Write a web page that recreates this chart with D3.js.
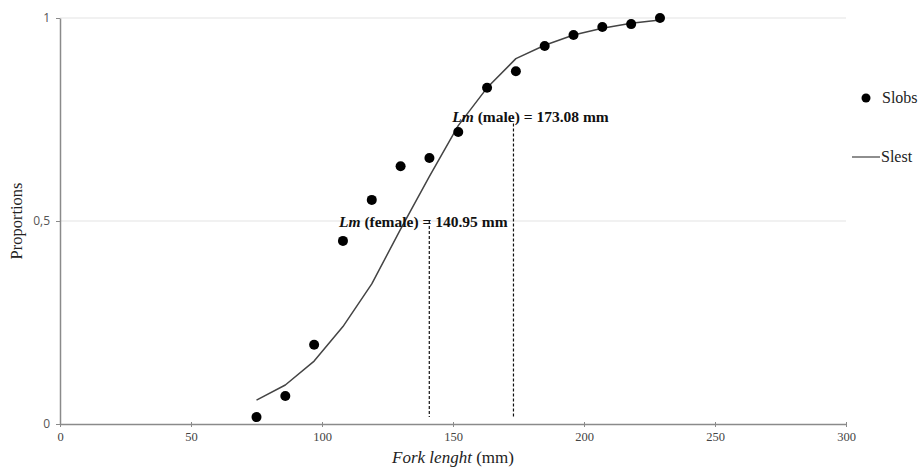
<!DOCTYPE html>
<html>
<head>
<meta charset="utf-8">
<script src="https://cdn.jsdelivr.net/npm/d3@7"></script>
<style>
  html, body { margin: 0; background: #fff; overflow: hidden; }
  svg { display: block; }
</style>
</head>
<body>
<div id="chart"></div>
<script>
  // Data
  const forkLength = [75, 86, 97, 108, 119, 130, 141, 152, 163, 174, 185, 196, 207, 218, 229]
  const slobs = [0.017, 0.069, 0.195, 0.451, 0.552, 0.635, 0.655, 0.719, 0.828, 0.869, 0.931, 0.958, 0.978, 0.985, 1.0]
  const slest = [0.059, 0.096, 0.155, 0.24, 0.345, 0.48, 0.61, 0.735, 0.828, 0.90, 0.933, 0.958, 0.975, 0.987, 0.995]
  const xTicks = [0, 50, 100, 150, 200, 250, 300]
  const yTicks = [0, 0.5, 1]
  const yTickLabels = ['0', '0,5', '1']
  const lmFemale = 140.95
  const lmMale = 173.08
  const lmFemaleTop = 0.5
  const lmMaleTop = 0.74
  const lmBottom = 0.017

  const width = 923
  const height = 470
  const margin = { top: 18, right: 77, bottom: 46, left: 60 }
  const innerWidth = width - margin.left - margin.right
  const innerHeight = height - margin.top - margin.bottom
  const serif = "'Liberation Serif', 'Times New Roman', serif"

  const svg = d3.select('#chart')
    .append('svg')
    .attr('width', width)
    .attr('height', height)

  const g = svg.append('g')
    .attr('transform', `translate(${margin.left}, ${margin.top})`)

  const x = d3.scaleLinear().domain([0, 300]).range([0, innerWidth])
  const y = d3.scaleLinear().domain([0, 1]).range([innerHeight, 0])

  const data = forkLength.map((d, i) => ({ x: d, obs: slobs[i], est: slest[i] }))

  // Gridlines
  g.append('g')
    .selectAll('line')
    .data(yTicks.filter(d => d > 0))
    .join('line')
    .attr('x1', 0)
    .attr('x2', innerWidth)
    .attr('y1', d => y(d))
    .attr('y2', d => y(d))
    .attr('stroke', '#e3e3e3')
    .attr('stroke-width', 1)

  // Bottom axis
  const xAxis = g.append('g')
    .attr('transform', `translate(0, ${innerHeight})`)
    .call(d3.axisBottom(x).tickValues(xTicks).tickSize(3).tickPadding(5).tickSizeOuter(0))
  xAxis.select('.domain').attr('stroke', '#8a8a8a').attr('stroke-width', 1.5)
  xAxis.selectAll('.tick line').attr('stroke', '#8a8a8a').attr('y1', -2)
  xAxis.selectAll('.tick text')
    .style('font-family', serif)
    .style('font-size', '12.5px')
    .attr('fill', '#444')

  // Left axis
  const yAxis = g.append('g')
    .call(d3.axisLeft(y).tickValues(yTicks).tickFormat((d, i) => yTickLabels[i]).tickSize(4).tickPadding(6).tickSizeOuter(0))
  yAxis.select('.domain').attr('stroke', '#8a8a8a').attr('stroke-width', 1.5)
  yAxis.selectAll('.tick line').attr('stroke', '#8a8a8a')
  yAxis.selectAll('.tick text')
    .style('font-family', "'Open Sans', 'Liberation Sans', sans-serif")
    .style('font-size', '12px')
    .attr('fill', '#555')

  // Axis titles
  const xTitle = svg.append('text')
    .attr('x', margin.left + innerWidth / 2)
    .attr('y', 463)
    .attr('text-anchor', 'middle')
    .attr('font-family', serif)
    .attr('font-size', 17)
    .attr('fill', '#222')
  xTitle.append('tspan').attr('font-style', 'italic').text('Fork lenght')
  xTitle.append('tspan').text(' (mm)')

  svg.append('text')
    .attr('transform', `translate(22, ${margin.top + innerHeight / 2}) rotate(-90)`)
    .attr('text-anchor', 'middle')
    .attr('font-family', serif)
    .attr('font-size', 16.5)
    .attr('fill', '#222')
    .text('Proportions')

  // Lm dashed lines
  const lms = [
    { v: lmFemale, top: lmFemaleTop },
    { v: lmMale, top: lmMaleTop }
  ]
  g.selectAll('.lm')
    .data(lms)
    .join('line')
    .attr('class', 'lm')
    .attr('x1', d => x(d.v))
    .attr('x2', d => x(d.v))
    .attr('y1', d => y(d.top))
    .attr('y2', y(lmBottom))
    .attr('stroke', '#111')
    .attr('stroke-width', 1.2)
    .attr('stroke-dasharray', '3,2')

  // Estimated line
  const line = d3.line()
    .x(d => x(d.x))
    .y(d => y(d.est))

  g.append('path')
    .datum(data)
    .attr('fill', 'none')
    .attr('stroke', '#444')
    .attr('stroke-width', 1.5)
    .attr('stroke-linejoin', 'round')
    .attr('d', line)

  // Observed points
  g.selectAll('.dot')
    .data(data)
    .join('circle')
    .attr('class', 'dot')
    .attr('cx', d => x(d.x))
    .attr('cy', d => y(d.obs))
    .attr('r', 5)
    .attr('fill', '#000')

  // Lm labels
  const addLabel = (v, baseY, who, dx) => {
    const t = g.append('text')
      .attr('x', x(v) + dx)
      .attr('y', baseY)
      .attr('text-anchor', 'middle')
      .attr('font-family', serif)
      .attr('font-size', 15.5)
      .attr('font-weight', 'bold')
      .attr('fill', '#111')
    t.append('tspan').attr('font-style', 'italic').text('Lm')
    t.append('tspan').text(` (${who}) = ${d3.format('.2f')(v)} mm`)
  }
  addLabel(lmFemale, y(lmFemaleTop) + 6, 'female', -6)
  addLabel(lmMale, y(lmMaleTop) - 2, 'male', 17)

  // Legend
  const legend = svg.append('g')
    .attr('font-family', serif)
    .attr('font-size', 16)
    .attr('fill', '#222')
  legend.append('circle').attr('cx', 866).attr('cy', 98).attr('r', 4.5).attr('fill', '#000')
  legend.append('text').attr('x', 882).attr('y', 103).text('Slobs')
  legend.append('line').attr('x1', 852).attr('x2', 880).attr('y1', 157).attr('y2', 157)
    .attr('stroke', '#444').attr('stroke-width', 1.2)
  legend.append('text').attr('x', 881).attr('y', 162).text('Slest')
</script>
</body>
</html>
